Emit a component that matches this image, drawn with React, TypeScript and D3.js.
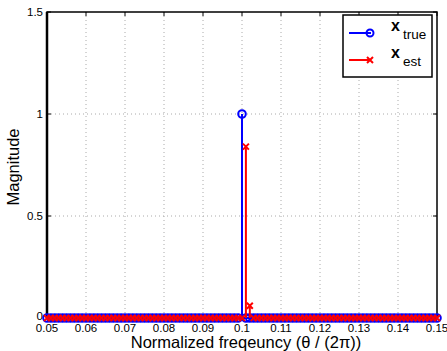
import * as d3 from "d3";
import { useEffect, useRef } from "react";

// frequency grid 0.05 .. 0.15, step 0.001
const freqs: number[] = d3.range(0, 101).map((i) => +(0.05 + i * 0.001).toFixed(3));
const trueSpikes: [number, number][] = [[0.1, 1]];
const estSpikes: [number, number][] = [[0.101, 0.84], [0.102, 0.06]];
const xTicks = [0.05, 0.06, 0.07, 0.08, 0.09, 0.1, 0.11, 0.12, 0.13, 0.14, 0.15];
const yTicks = [0, 0.5, 1, 1.5];

const W = 447;
const H = 351;

export default function App() {
  const svgRef = useRef<SVGSVGElement>(null);

  useEffect(() => {
    if (!svgRef.current) return;
    const svg = d3.select(svgRef.current);
    svg.selectAll("*").remove();

    const margin = { top: 12, right: 10, bottom: 33, left: 47 };
    const iw = W - margin.left - margin.right;
    const ih = H - margin.top - margin.bottom;
    const font = "Liberation Sans, Arial, sans-serif";

    const x = d3.scaleLinear().domain([0.05, 0.15]).range([0, iw]);
    const y = d3.scaleLinear().domain([0, 1.5]).range([ih, 0]);

    const g = svg.append("g").attr("transform", `translate(${margin.left},${margin.top})`);

    g.append("rect").attr("width", iw).attr("height", ih).attr("fill", "white");

    // grid
    g.selectAll(".gx")
      .data(xTicks.slice(1, -1))
      .enter()
      .append("line")
      .attr("x1", (d) => x(d))
      .attr("x2", (d) => x(d))
      .attr("y1", 0)
      .attr("y2", ih)
      .attr("stroke", "#aaa")
      .attr("stroke-width", 1)
      .attr("stroke-dasharray", "1,3");
    g.selectAll(".gy")
      .data(yTicks.slice(1, -1))
      .enter()
      .append("line")
      .attr("x1", 0)
      .attr("x2", iw)
      .attr("y1", (d) => y(d))
      .attr("y2", (d) => y(d))
      .attr("stroke", "#aaa")
      .attr("stroke-width", 1)
      .attr("stroke-dasharray", "1,3");

    // inward ticks
    const tl = 4;
    xTicks.forEach((t) => {
      g.append("line").attr("x1", x(t)).attr("x2", x(t)).attr("y1", ih).attr("y2", ih - tl).attr("stroke", "#000");
      g.append("line").attr("x1", x(t)).attr("x2", x(t)).attr("y1", 0).attr("y2", tl).attr("stroke", "#000");
    });
    yTicks.forEach((t) => {
      g.append("line").attr("x1", 0).attr("x2", tl).attr("y1", y(t)).attr("y2", y(t)).attr("stroke", "#000");
      g.append("line").attr("x1", iw).attr("x2", iw - tl).attr("y1", y(t)).attr("y2", y(t)).attr("stroke", "#000");
    });

    // box
    g.append("rect")
      .attr("width", iw)
      .attr("height", ih)
      .attr("fill", "none")
      .attr("stroke", "#000")
      .attr("stroke-width", 1.5);
    g.append("line").attr("x1", 0).attr("x2", 0).attr("y1", 0).attr("y2", ih).attr("stroke", "#000").attr("stroke-width", 2.5);

    // tick labels
    g.selectAll(".xl")
      .data(xTicks)
      .enter()
      .append("text")
      .attr("x", (d) => x(d))
      .attr("y", ih + 13.5)
      .attr("text-anchor", "middle")
      .attr("font-family", font)
      .attr("font-size", 11.5)
      .text((d) => String(d));
    g.selectAll(".yl")
      .data(yTicks)
      .enter()
      .append("text")
      .attr("x", -4)
      .attr("y", (d) => y(d) + (d === 0 ? 2 : 4))
      .attr("text-anchor", "end")
      .attr("font-family", font)
      .attr("font-size", 11.5)
      .text((d) => String(d));

    // axis labels
    svg.append("text")
      .attr("x", margin.left + iw / 2 + 4)
      .attr("y", H - 3)
      .attr("text-anchor", "middle")
      .attr("font-family", font)
      .attr("font-size", 16.5)
      .text("Normalized freqeuncy (θ / (2π))");
    svg.append("text")
      .attr("transform", `translate(19,${margin.top + ih / 2 + 2}) rotate(-90)`)
      .attr("text-anchor", "middle")
      .attr("font-family", font)
      .attr("font-size", 16.5)
      .text("Magnitude");

    const trueVal = (f: number) => trueSpikes.find((s) => Math.abs(s[0] - f) < 1e-9)?.[1] ?? 0;
    const estVal = (f: number) => estSpikes.find((s) => Math.abs(s[0] - f) < 1e-9)?.[1] ?? 0;

    const blue = "#0000ff";
    const red = "#ff0000";

    // true stems
    g.append("line").attr("x1", 0).attr("x2", iw).attr("y1", y(0)).attr("y2", y(0)).attr("stroke", blue).attr("stroke-width", 2);
    g.selectAll(".ts")
      .data(freqs)
      .enter()
      .append("line")
      .attr("x1", (d) => x(d))
      .attr("x2", (d) => x(d))
      .attr("y1", y(0))
      .attr("y2", (d) => y(trueVal(d)))
      .attr("stroke", blue)
      .attr("stroke-width", 2);
    g.selectAll(".tm")
      .data(freqs)
      .enter()
      .append("circle")
      .attr("cx", (d) => x(d))
      .attr("cy", (d) => y(trueVal(d)))
      .attr("r", 3.8)
      .attr("fill", "none")
      .attr("stroke", blue)
      .attr("stroke-width", 2);

    // estimated stems
    g.selectAll(".es")
      .data(freqs)
      .enter()
      .append("line")
      .attr("x1", (d) => x(d))
      .attr("x2", (d) => x(d))
      .attr("y1", y(0))
      .attr("y2", (d) => y(estVal(d)))
      .attr("stroke", red)
      .attr("stroke-width", 2);
    const cross = "M-3,-3L3,3M-3,3L3,-3";
    g.selectAll(".em")
      .data(freqs)
      .enter()
      .append("path")
      .attr("transform", (d) => `translate(${x(d)},${y(estVal(d))})`)
      .attr("d", cross)
      .attr("stroke", red)
      .attr("stroke-width", 2)
      .attr("fill", "none");

    // legend
    const lg = svg.append("g").attr("transform", "translate(343,15)");
    lg.append("rect").attr("width", 89).attr("height", 62).attr("fill", "white").attr("stroke", "#000").attr("stroke-width", 1.5);
    const entries = [
      { color: blue, sub: "true", marker: "circle" },
      { color: red, sub: "est", marker: "cross" },
    ];
    entries.forEach((e, i) => {
      const cy = 18 + i * 27;
      lg.append("line").attr("x1", 6).attr("x2", 28).attr("y1", cy).attr("y2", cy).attr("stroke", e.color).attr("stroke-width", 2);
      if (e.marker === "circle") {
        lg.append("circle").attr("cx", 27).attr("cy", cy).attr("r", 3.5).attr("fill", "none").attr("stroke", e.color).attr("stroke-width", 2);
      } else {
        lg.append("path").attr("transform", `translate(27,${cy})`).attr("d", cross).attr("stroke", e.color).attr("stroke-width", 2);
      }
      const t = lg.append("text").attr("x", 48).attr("y", cy - 2).attr("font-family", font).attr("font-size", 16);
      t.append("tspan").attr("font-weight", "bold").text("x");
      t.append("tspan").attr("dx", 3).attr("dy", 8).attr("font-size", 13.5).text(e.sub);
    });
  }, []);

  return <svg ref={svgRef} width={W} height={H} style={{ display: "block", position: "absolute", left: 0, top: 0 }} />;
}
